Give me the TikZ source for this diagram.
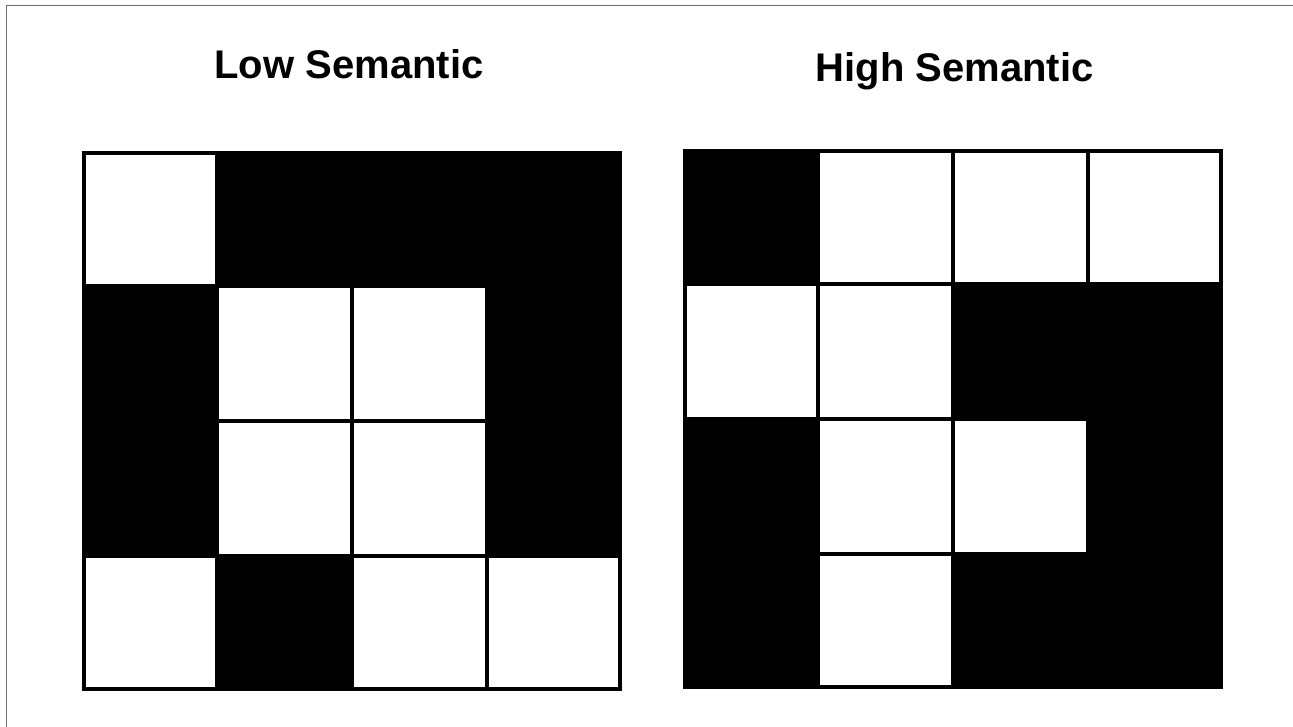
\documentclass[tikz,border=0pt]{standalone}
\usepackage{fontspec}
\setmainfont{Liberation Sans}
\definecolor{framegray}{HTML}{6E6E6E}
\tikzset{
  titletext/.style={anchor=base, inner sep=0pt, font=\fontsize{40}{48}\selectfont\bfseries},
  blackcell/.style={fill=black},
  whitecell/.style={fill=white},
  gridframe/.style={draw=black, line width=4pt}
}
\begin{document}
\begin{tikzpicture}[x=1pt,y=-1pt]
\useasboundingbox (0,0) rectangle (1293,727);
\fill[white] (0,0) rectangle (1293,727);
\draw[framegray, line width=1.5pt] (6.5,727) -- (6.5,5.5) -- (1293,5.5);

% titles
\node[titletext] (lowtitle) at (349,79) {Low Semantic};
\node[titletext] (hightitle) at (954.5,82) {High Semantic};

% grid 1 (Low Semantic), origin (82,151), cell 135
\def\gx{82}\def\gy{151}
\fill[blackcell] (\gx,\gy) rectangle ++(540,540);
\foreach \r/\c in {0/0, 1/1, 1/2, 2/1, 2/2, 3/0, 3/2, 3/3}{
  \fill[whitecell] ({\gx+135*\c+2},{\gy+135*\r+2}) rectangle ++(131,131);
}
\draw[gridframe] ({\gx+2},{\gy+2}) rectangle ++(536,536);

% grid 2 (High Semantic), origin (683,149)
\def\hx{683}\def\hy{149}
\fill[blackcell] (\hx,\hy) rectangle ++(540,540);
\foreach \r/\c in {0/1, 0/2, 0/3, 1/0, 1/1, 2/1, 2/2, 3/1}{
  \fill[whitecell] ({\hx+135*\c+2},{\hy+135*\r+2}) rectangle ++(131,131);
}
\draw[gridframe] ({\hx+2},{\hy+2}) rectangle ++(536,536);
\end{tikzpicture}
\end{document}
